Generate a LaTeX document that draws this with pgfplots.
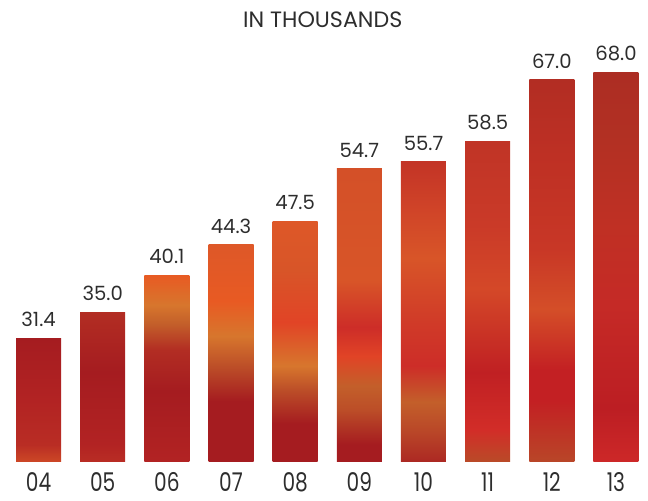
\documentclass[border=0pt]{standalone}
\usepackage{pgfplots}
\pgfplotsset{compat=1.18}
\usepackage{fontspec}
\setmainfont{Poppins}
\newfontfamily\tickfont[FakeStretch=0.78]{Poppins}
\definecolor{txt}{RGB}{45,45,45}
\definecolor{DR}{RGB}{165,28,32}
\definecolor{R1}{RGB}{178,35,35}
\definecolor{R2}{RGB}{195,35,36}
\definecolor{R3}{RGB}{205,45,40}
\definecolor{OR}{RGB}{225,68,38}
\definecolor{O1}{RGB}{232,90,35}
\definecolor{O2}{RGB}{216,85,40}
\definecolor{AM}{RGB}{215,118,45}
\definecolor{BR}{RGB}{188,78,40}
\definecolor{OB}{RGB}{205,72,38}
\definecolor{RM}{RGB}{185,45,36}
\definecolor{RB}{RGB}{178,45,35}
\definecolor{TOP7}{RGB}{222,88,40}
\definecolor{AB}{RGB}{195,95,42}
\definecolor{TOP9}{RGB}{212,80,40}
\definecolor{B10a}{RGB}{172,40,35}
\definecolor{B10b}{RGB}{185,70,40}
\definecolor{B10c}{RGB}{208,58,40}
\definecolor{B10d}{RGB}{208,68,40}
\definecolor{B10e}{RGB}{195,52,38}
\definecolor{B11a}{RGB}{185,75,40}
\definecolor{B11b}{RGB}{210,45,40}
\definecolor{B11c}{RGB}{192,32,35}
\definecolor{B11d}{RGB}{212,72,40}
\definecolor{B11e}{RGB}{202,58,40}
\definecolor{B11f}{RGB}{192,52,38}
\definecolor{B12a}{RGB}{185,70,40}
\definecolor{B12b}{RGB}{195,32,35}
\definecolor{B12c}{RGB}{212,78,40}
\definecolor{B12d}{RGB}{200,55,38}
\definecolor{B12e}{RGB}{190,48,36}
\definecolor{B12f}{RGB}{178,45,35}
\definecolor{B13a}{RGB}{205,40,40}
\definecolor{B13b}{RGB}{188,30,35}
\definecolor{B13c}{RGB}{197,42,38}
\definecolor{B13d}{RGB}{192,48,36}
\definecolor{B13e}{RGB}{178,48,35}
\definecolor{B13f}{RGB}{172,45,35}
% positions: bp = 25 + 50*p
\pgfdeclareverticalshading{b04}{100bp}{color(0bp)=(OB); color(25bp)=(OB); color(32bp)=(RM); color(50bp)=(R1); color(75bp)=(DR); color(100bp)=(DR)}
\pgfdeclareverticalshading{b05}{100bp}{color(0bp)=(RM); color(25bp)=(RM); color(31bp)=(R1); color(55bp)=(DR); color(75bp)=(RB); color(100bp)=(RB)}
\pgfdeclareverticalshading{b06}{100bp}{color(0bp)=(R1); color(25bp)=(R1); color(44bp)=(DR); color(55bp)=(RB); color(62bp)=(AB); color(67bp)=(AM); color(75bp)=(O1); color(100bp)=(O1)}
\pgfdeclareverticalshading{b07}{100bp}{color(0bp)=(DR); color(25bp)=(DR); color(39bp)=(DR); color(47bp)=(BR); color(54bp)=(AM); color(62bp)=(O1); color(75bp)=(TOP7); color(100bp)=(TOP7)}
\pgfdeclareverticalshading{b08}{100bp}{color(0bp)=(DR); color(25bp)=(DR); color(33bp)=(DR); color(40bp)=(BR); color(45bp)=(AM); color(54bp)=(OR); color(65bp)=(O2); color(75bp)=(TOP7); color(100bp)=(TOP7)}
\pgfdeclareverticalshading{b09}{100bp}{color(0bp)=(DR); color(25bp)=(DR); color(28bp)=(DR); color(34bp)=(BR); color(38bp)=(AB); color(43bp)=(OR); color(48bp)=(R3); color(56bp)=(O2); color(75bp)=(TOP9); color(100bp)=(TOP9)}
\pgfdeclareverticalshading{b10}{100bp}{color(0bp)=(B10a); color(25bp)=(B10a); color(30bp)=(B10b); color(35bp)=(AB); color(41bp)=(R3); color(48bp)=(B10c); color(59bp)=(O2); color(67bp)=(B10d); color(75bp)=(B10e); color(100bp)=(B10e)}
\pgfdeclareverticalshading{b11}{100bp}{color(0bp)=(B11a); color(25bp)=(B11a); color(30bp)=(B11b); color(39bp)=(B11c); color(52bp)=(B11d); color(62bp)=(B11e); color(75bp)=(B11f); color(100bp)=(B11f)}
\pgfdeclareverticalshading{b12}{100bp}{color(0bp)=(B12a); color(25bp)=(B12a); color(33bp)=(B12b); color(37bp)=(B12b); color(45bp)=(B12c); color(53bp)=(B12d); color(65bp)=(B12e); color(75bp)=(B12f); color(100bp)=(B12f)}
\pgfdeclareverticalshading{b13}{100bp}{color(0bp)=(B13a); color(25bp)=(B13a); color(32bp)=(B13b); color(45bp)=(B13c); color(55bp)=(B13d); color(67bp)=(B13e); color(75bp)=(B13f); color(100bp)=(B13f)}
\begin{document}
\begin{tikzpicture}
\useasboundingbox (-3.25pt,-19.5pt) rectangle (320.75pt,231pt);
\begin{axis}[
  at={(0,0)}, anchor=south west,
  scale only axis, width=320.75pt, height=194.85pt,
  xmin=-0.5, xmax=9.5, ymin=14.4, ymax=68,
  clip=false,
  axis line style={draw=none},
  major tick style={draw=none},
  major tick length=0pt,
  ytick=\empty,
  xtick={0,...,9},
  xticklabels={04,05,06,07,08,09,10,11,12,13},
  xticklabel style={font=\tickfont\fontsize{12.9}{14}\selectfont, text=txt, anchor=north, inner sep=0pt, yshift=-5pt},
  title={IN THOUSANDS},
  title style={font=\fontsize{11.1}{12}\selectfont, text=txt, at={(0.5,1)}, anchor=base, inner sep=0pt, yshift=16.15pt, xshift=-2.25pt},
  /pgf/number format/assume math mode=true,
  ybar, bar width=22.5pt,
  every axis plot/.append style={bar shift=0pt, draw=none},
  nodes near coords={\pgfmathprintnumber[fixed,fixed zerofill,precision=1]{\pgfplotspointmeta}},
  nodes near coords style={font=\fontsize{9.8}{11}\selectfont, text=txt, anchor=south, inner sep=0pt, yshift=5.5pt},
]
\addplot[shading=b04] coordinates {(0,31.4)};
\addplot[shading=b05] coordinates {(1,35.0)};
\addplot[shading=b06] coordinates {(2,40.1)};
\addplot[shading=b07] coordinates {(3,44.3)};
\addplot[shading=b08] coordinates {(4,47.5)};
\addplot[shading=b09] coordinates {(5,54.7)};
\addplot[shading=b10] coordinates {(6,55.7)};
\addplot[shading=b11] coordinates {(7,58.5)};
\addplot[shading=b12] coordinates {(8,67.0)};
\addplot[shading=b13] coordinates {(9,68.0)};
\end{axis}
\end{tikzpicture}
\end{document}
